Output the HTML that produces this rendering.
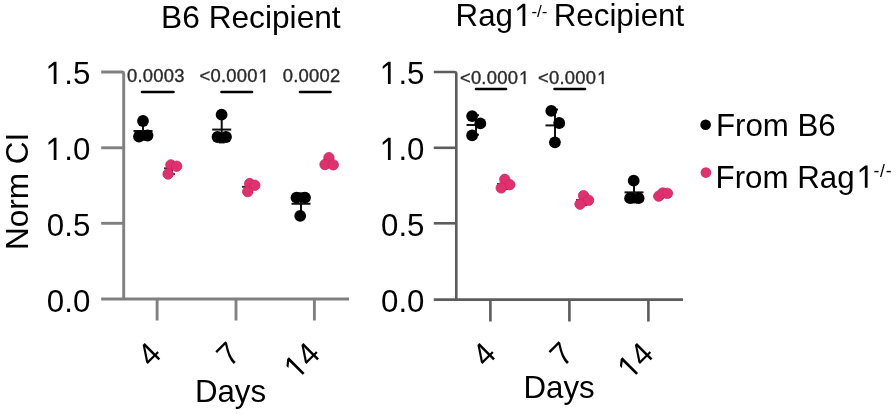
<!DOCTYPE html>
<html><head><meta charset="utf-8"><style>
html,body{margin:0;padding:0;background:#fff;width:896px;height:414px;overflow:hidden}
svg{display:block;filter:blur(0.45px)}
text{font-family:"Liberation Sans",sans-serif;font-size:32px;fill:#000}
text.p{font-size:18.4px;fill:#2a2a2a;stroke:#2a2a2a;stroke-width:0.35px;letter-spacing:0.25px}
text.sup{font-size:17.5px;letter-spacing:0.8px}
</style></head><body>
<svg width="896" height="414" viewBox="0 0 896 414">
<rect width="896" height="414" fill="#fff"/>
<text x="531.4" y="16.5" class="sup" style="letter-spacing:0;font-size:17px">-/-</text>
<text x="873.4" y="176.5" class="sup">-/-</text>
<circle cx="705.6" cy="124.8" r="5.3" fill="#000"/>
<circle cx="705.9" cy="172.6" r="5.3" fill="#e0306e"/>
<g transform="translate(90.30,84.00) scale(0.977,1)"><text id="t0" text-anchor="end"><tspan fill="transparent" stroke="none">1</tspan>.5</text><path transform="translate(-44.48,0) scale(0.01562,-0.01562)" d="M450 0V1215L110 960V1135L470 1420H630V0Z" fill="#000"/></g>
<g transform="translate(90.30,160.00) scale(0.977,1)"><text id="t1" text-anchor="end"><tspan fill="transparent" stroke="none">1</tspan>.0</text><path transform="translate(-44.48,0) scale(0.01562,-0.01562)" d="M450 0V1215L110 960V1135L470 1420H630V0Z" fill="#000"/></g>
<g transform="translate(90.30,236.30) scale(0.977,1)"><text id="t2" text-anchor="end">0.5</text></g>
<g transform="translate(90.30,312.30) scale(0.977,1)"><text id="t3" text-anchor="end">0.0</text></g>
<g transform="translate(424.50,84.00) scale(0.977,1)"><text id="t4" text-anchor="end"><tspan fill="transparent" stroke="none">1</tspan>.5</text><path transform="translate(-44.48,0) scale(0.01562,-0.01562)" d="M450 0V1215L110 960V1135L470 1420H630V0Z" fill="#000"/></g>
<g transform="translate(424.50,160.00) scale(0.977,1)"><text id="t5" text-anchor="end"><tspan fill="transparent" stroke="none">1</tspan>.0</text><path transform="translate(-44.48,0) scale(0.01562,-0.01562)" d="M450 0V1215L110 960V1135L470 1420H630V0Z" fill="#000"/></g>
<g transform="translate(424.50,236.30) scale(0.977,1)"><text id="t6" text-anchor="end">0.5</text></g>
<g transform="translate(424.50,312.30) scale(0.977,1)"><text id="t7" text-anchor="end">0.0</text></g>
<g transform="translate(163.10,355.60) rotate(-45) scale(0.977,1)"><text id="t8" text-anchor="end">4</text></g>
<g transform="translate(242.00,355.60) rotate(-45) scale(0.977,1)"><text id="t9" text-anchor="end">7</text></g>
<g transform="translate(321.90,355.60) rotate(-45) scale(0.977,1)"><text id="t10" text-anchor="end"><tspan fill="transparent" stroke="none">1</tspan>4</text><path transform="translate(-34.89,0) scale(0.01562,-0.01562)" d="M450 0V1215L110 960V1135L470 1420H630V0Z" fill="#000"/></g>
<g transform="translate(497.70,355.60) rotate(-45) scale(0.977,1)"><text id="t11" text-anchor="end">4</text></g>
<g transform="translate(575.40,355.60) rotate(-45) scale(0.977,1)"><text id="t12" text-anchor="end">7</text></g>
<g transform="translate(655.40,355.60) rotate(-45) scale(0.977,1)"><text id="t13" text-anchor="end"><tspan fill="transparent" stroke="none">1</tspan>4</text><path transform="translate(-34.89,0) scale(0.01562,-0.01562)" d="M450 0V1215L110 960V1135L470 1420H630V0Z" fill="#000"/></g>
<g transform="translate(126.90,82.20)"><text id="t14" class="p">0.0003</text></g>
<g transform="translate(199.50,82.20)"><text id="t15" class="p">&lt;0.000<tspan fill="transparent" stroke="none">1</tspan></text><path transform="translate(59.87,0) scale(0.00898,-0.00898)" d="M450 0V1215L110 960V1135L470 1420H630V0Z" fill="#2a2a2a" stroke="#2a2a2a" stroke-width="39.0"/></g>
<g transform="translate(282.70,82.20)"><text id="t16" class="p">0.0002</text></g>
<g transform="translate(459.90,84.00)"><text id="t17" class="p">&lt;0.000<tspan fill="transparent" stroke="none">1</tspan></text><path transform="translate(59.87,0) scale(0.00898,-0.00898)" d="M450 0V1215L110 960V1135L470 1420H630V0Z" fill="#2a2a2a" stroke="#2a2a2a" stroke-width="39.0"/></g>
<g transform="translate(538.00,84.00)"><text id="t18" class="p">&lt;0.000<tspan fill="transparent" stroke="none">1</tspan></text><path transform="translate(59.87,0) scale(0.00898,-0.00898)" d="M450 0V1215L110 960V1135L470 1420H630V0Z" fill="#2a2a2a" stroke="#2a2a2a" stroke-width="39.0"/></g>
<g transform="translate(161.10,28.00) scale(0.99,1)"><text id="t19">B6 Recipient</text></g>
<g transform="translate(455.60,26.00) scale(0.977,1)"><text id="t20">Rag<tspan fill="transparent" stroke="none">1</tspan></text><path transform="translate(61.49,0) scale(0.01562,-0.01562)" d="M450 0V1215L110 960V1135L470 1420H630V0Z" fill="#000"/></g>
<g transform="translate(553.80,26.00) scale(0.977,1)"><text id="t21">Recipient</text></g>
<g transform="translate(27.50,249.90) rotate(-90)"><text id="t22" style="font-size:31.5px">Norm CI</text></g>
<g transform="translate(194.90,401.60) scale(0.977,1)"><text id="t23">Days</text></g>
<g transform="translate(523.50,397.50) scale(0.977,1)"><text id="t24">Days</text></g>
<g transform="translate(715.90,135.90) scale(0.977,1)"><text id="t25">From B6</text></g>
<g transform="translate(715.60,187.80) scale(0.977,1)"><text id="t26">From Rag<tspan fill="transparent" stroke="none">1</tspan></text><path transform="translate(145.72,0) scale(0.01562,-0.01562)" d="M450 0V1215L110 960V1135L470 1420H630V0Z" fill="#000"/></g>
<path d="M101.2 72 H121.7 Q123.7 72 123.7 74 V299.0" fill="none" stroke="#808080" stroke-width="2.9"/>
<line x1="101.2" y1="147.8" x2="123.7" y2="147.8" stroke="#808080" stroke-width="2.9"/>
<line x1="101.2" y1="223.3" x2="123.7" y2="223.3" stroke="#808080" stroke-width="2.9"/>
<line x1="101.2" y1="299.0" x2="349" y2="299.0" stroke="#808080" stroke-width="2.9"/>
<line x1="157.1" y1="299.0" x2="157.1" y2="320.5" stroke="#808080" stroke-width="2.9"/>
<line x1="236" y1="299.0" x2="236" y2="320.5" stroke="#808080" stroke-width="2.9"/>
<line x1="314.4" y1="299.0" x2="314.4" y2="320.5" stroke="#808080" stroke-width="2.9"/>
<path d="M433.8 72 H454.3 Q456.3 72 456.3 74 V299.6" fill="none" stroke="#5c5c5c" stroke-width="2.6"/>
<line x1="433.8" y1="147.8" x2="456.3" y2="147.8" stroke="#5c5c5c" stroke-width="2.6"/>
<line x1="433.8" y1="223.3" x2="456.3" y2="223.3" stroke="#5c5c5c" stroke-width="2.6"/>
<line x1="433.8" y1="299.6" x2="683" y2="299.6" stroke="#5c5c5c" stroke-width="2.6"/>
<line x1="490.4" y1="299.6" x2="490.4" y2="321.5" stroke="#5c5c5c" stroke-width="2.6"/>
<line x1="569.4" y1="299.6" x2="569.4" y2="321.5" stroke="#5c5c5c" stroke-width="2.6"/>
<line x1="648.4" y1="299.6" x2="648.4" y2="321.5" stroke="#5c5c5c" stroke-width="2.6"/>
<line x1="133.5" y1="131.00" x2="152.5" y2="131.00" stroke="#111" stroke-width="2"/>
<line x1="143" y1="122.33" x2="143" y2="139.67" stroke="#111" stroke-width="2"/>
<line x1="140" y1="122.33" x2="146" y2="122.33" stroke="#111" stroke-width="2"/>
<line x1="140" y1="139.67" x2="146" y2="139.67" stroke="#111" stroke-width="2"/>
<circle cx="143" cy="121" r="5.9" fill="#000"/>
<circle cx="139" cy="136.5" r="5.9" fill="#000"/>
<circle cx="147.5" cy="135.5" r="5.9" fill="#000"/>
<line x1="164" y1="168.37" x2="180" y2="168.37" stroke="#5a2038" stroke-width="2"/>
<line x1="172" y1="162.57" x2="172" y2="174.16" stroke="#5a2038" stroke-width="2"/>
<line x1="169" y1="162.57" x2="175" y2="162.57" stroke="#5a2038" stroke-width="2"/>
<line x1="169" y1="174.16" x2="175" y2="174.16" stroke="#5a2038" stroke-width="2"/>
<circle cx="170.88" cy="164.91" r="5.2" fill="#e0306e" stroke="#cc2860" stroke-width="0.8"/>
<circle cx="176.66" cy="166.19" r="5.2" fill="#e0306e" stroke="#cc2860" stroke-width="0.8"/>
<circle cx="168.07" cy="174.00" r="5.2" fill="#e0306e" stroke="#cc2860" stroke-width="0.8"/>
<line x1="212.2" y1="129.57" x2="231.2" y2="129.57" stroke="#111" stroke-width="2"/>
<line x1="221.7" y1="116.69" x2="221.7" y2="142.44" stroke="#111" stroke-width="2"/>
<line x1="218.7" y1="116.69" x2="224.7" y2="116.69" stroke="#111" stroke-width="2"/>
<line x1="218.7" y1="142.44" x2="224.7" y2="142.44" stroke="#111" stroke-width="2"/>
<circle cx="221.6" cy="114.7" r="5.9" fill="#000"/>
<circle cx="217.5" cy="137" r="5.9" fill="#000"/>
<circle cx="226" cy="137" r="5.9" fill="#000"/>
<line x1="242" y1="186.83" x2="258" y2="186.83" stroke="#5a2038" stroke-width="2"/>
<line x1="250" y1="181.83" x2="250" y2="191.84" stroke="#5a2038" stroke-width="2"/>
<line x1="247" y1="181.83" x2="253" y2="181.83" stroke="#5a2038" stroke-width="2"/>
<line x1="247" y1="191.84" x2="253" y2="191.84" stroke="#5a2038" stroke-width="2"/>
<circle cx="249.69" cy="183.57" r="5.2" fill="#e0306e" stroke="#cc2860" stroke-width="0.8"/>
<circle cx="254.78" cy="185.28" r="5.2" fill="#e0306e" stroke="#cc2860" stroke-width="0.8"/>
<circle cx="247.73" cy="191.65" r="5.2" fill="#e0306e" stroke="#cc2860" stroke-width="0.8"/>
<line x1="291.5" y1="203.77" x2="310.5" y2="203.77" stroke="#111" stroke-width="2"/>
<line x1="301" y1="193.26" x2="301" y2="214.27" stroke="#111" stroke-width="2"/>
<line x1="298" y1="193.26" x2="304" y2="193.26" stroke="#111" stroke-width="2"/>
<line x1="298" y1="214.27" x2="304" y2="214.27" stroke="#111" stroke-width="2"/>
<circle cx="296.5" cy="197.7" r="5.9" fill="#000"/>
<circle cx="305" cy="197.7" r="5.9" fill="#000"/>
<circle cx="300.2" cy="215.9" r="5.9" fill="#000"/>
<line x1="321.5" y1="162.33" x2="337.5" y2="162.33" stroke="#5a2038" stroke-width="2"/>
<line x1="329.5" y1="157.54" x2="329.5" y2="167.13" stroke="#5a2038" stroke-width="2"/>
<line x1="326.5" y1="157.54" x2="332.5" y2="157.54" stroke="#5a2038" stroke-width="2"/>
<line x1="326.5" y1="167.13" x2="332.5" y2="167.13" stroke="#5a2038" stroke-width="2"/>
<circle cx="328.92" cy="157.63" r="5.2" fill="#e0306e" stroke="#cc2860" stroke-width="0.8"/>
<circle cx="325.01" cy="164.52" r="5.2" fill="#e0306e" stroke="#cc2860" stroke-width="0.8"/>
<circle cx="333.26" cy="164.86" r="5.2" fill="#e0306e" stroke="#cc2860" stroke-width="0.8"/>
<line x1="466.5" y1="124.97" x2="485.5" y2="124.97" stroke="#111" stroke-width="2"/>
<line x1="476" y1="115.22" x2="476" y2="134.71" stroke="#111" stroke-width="2"/>
<line x1="473" y1="115.22" x2="479" y2="115.22" stroke="#111" stroke-width="2"/>
<line x1="473" y1="134.71" x2="479" y2="134.71" stroke="#111" stroke-width="2"/>
<circle cx="472.1" cy="116.1" r="5.9" fill="#000"/>
<circle cx="480.3" cy="123.4" r="5.9" fill="#000"/>
<circle cx="472.1" cy="135.4" r="5.9" fill="#000"/>
<line x1="497" y1="183.97" x2="513" y2="183.97" stroke="#5a2038" stroke-width="2"/>
<line x1="505" y1="178.87" x2="505" y2="189.07" stroke="#5a2038" stroke-width="2"/>
<line x1="502" y1="178.87" x2="508" y2="178.87" stroke="#5a2038" stroke-width="2"/>
<line x1="502" y1="189.07" x2="508" y2="189.07" stroke="#5a2038" stroke-width="2"/>
<circle cx="504.78" cy="179.32" r="5.2" fill="#e0306e" stroke="#cc2860" stroke-width="0.8"/>
<circle cx="509.80" cy="184.68" r="5.2" fill="#e0306e" stroke="#cc2860" stroke-width="0.8"/>
<circle cx="501.21" cy="187.91" r="5.2" fill="#e0306e" stroke="#cc2860" stroke-width="0.8"/>
<line x1="545.5" y1="125.40" x2="564.5" y2="125.40" stroke="#111" stroke-width="2"/>
<line x1="555" y1="109.56" x2="555" y2="141.24" stroke="#111" stroke-width="2"/>
<line x1="552" y1="109.56" x2="558" y2="109.56" stroke="#111" stroke-width="2"/>
<line x1="552" y1="141.24" x2="558" y2="141.24" stroke="#111" stroke-width="2"/>
<circle cx="551.3" cy="110.9" r="5.9" fill="#000"/>
<circle cx="559.2" cy="123" r="5.9" fill="#000"/>
<circle cx="554.9" cy="142.3" r="5.9" fill="#000"/>
<line x1="576" y1="200.00" x2="592" y2="200.00" stroke="#5a2038" stroke-width="2"/>
<line x1="584" y1="194.94" x2="584" y2="205.06" stroke="#5a2038" stroke-width="2"/>
<line x1="581" y1="194.94" x2="587" y2="194.94" stroke="#5a2038" stroke-width="2"/>
<line x1="581" y1="205.06" x2="587" y2="205.06" stroke="#5a2038" stroke-width="2"/>
<circle cx="583.59" cy="195.58" r="5.2" fill="#e0306e" stroke="#cc2860" stroke-width="0.8"/>
<circle cx="588.60" cy="200.25" r="5.2" fill="#e0306e" stroke="#cc2860" stroke-width="0.8"/>
<circle cx="580.01" cy="204.16" r="5.2" fill="#e0306e" stroke="#cc2860" stroke-width="0.8"/>
<line x1="624.5" y1="192.37" x2="643.5" y2="192.37" stroke="#111" stroke-width="2"/>
<line x1="634" y1="182.26" x2="634" y2="202.47" stroke="#111" stroke-width="2"/>
<line x1="631" y1="182.26" x2="637" y2="182.26" stroke="#111" stroke-width="2"/>
<line x1="631" y1="202.47" x2="637" y2="202.47" stroke="#111" stroke-width="2"/>
<circle cx="633.7" cy="180.7" r="5.9" fill="#000"/>
<circle cx="630.1" cy="198.2" r="5.9" fill="#000"/>
<circle cx="638.6" cy="198.2" r="5.9" fill="#000"/>
<line x1="655" y1="194.17" x2="671" y2="194.17" stroke="#5a2038" stroke-width="2"/>
<line x1="663" y1="192.14" x2="663" y2="196.20" stroke="#5a2038" stroke-width="2"/>
<line x1="660" y1="192.14" x2="666" y2="192.14" stroke="#5a2038" stroke-width="2"/>
<line x1="660" y1="196.20" x2="666" y2="196.20" stroke="#5a2038" stroke-width="2"/>
<circle cx="658.75" cy="196.15" r="5.2" fill="#e0306e" stroke="#cc2860" stroke-width="0.8"/>
<circle cx="662.74" cy="193.00" r="5.2" fill="#e0306e" stroke="#cc2860" stroke-width="0.8"/>
<circle cx="667.42" cy="193.34" r="5.2" fill="#e0306e" stroke="#cc2860" stroke-width="0.8"/>
<line x1="142" y1="92" x2="173.5" y2="92" stroke="#000" stroke-width="2.6" stroke-linecap="round"/>
<line x1="221.5" y1="92" x2="252" y2="92" stroke="#000" stroke-width="2.6" stroke-linecap="round"/>
<line x1="300" y1="92" x2="330.5" y2="92" stroke="#000" stroke-width="2.6" stroke-linecap="round"/>
<line x1="476" y1="89" x2="506" y2="89" stroke="#000" stroke-width="2.6" stroke-linecap="round"/>
<line x1="554.5" y1="89" x2="585" y2="89" stroke="#000" stroke-width="2.6" stroke-linecap="round"/>
</svg>
</body></html>
